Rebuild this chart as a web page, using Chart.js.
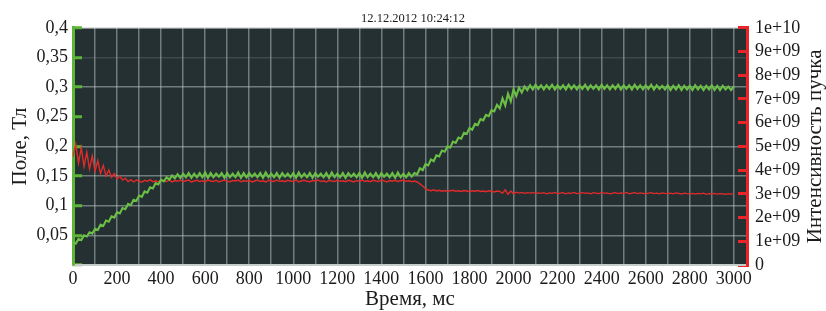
<!DOCTYPE html>
<html>
<head>
<meta charset="utf-8">
<script src="https://cdn.jsdelivr.net/npm/chart.js@4.4.1/dist/chart.umd.min.js"></script>
<style>
  html, body { margin: 0; padding: 0; background: #fff; }
  canvas { display: block; }
</style>
</head>
<body>
<canvas id="chartPole" width="826" height="311"></canvas>
<script>
// ── Data (one sample every 12.5 ms, 0…3000 ms) ──
const SAMPLE_MS = 12.5;
const TIME_MAX  = 3060;

// magnetic field, Тл (left axis)
const field = [
  .038,.036,.044,.042,.050,.048,.055,.053,.061,.059,
  .068,.066,.075,.073,.082,.080,.089,.087,.096,.094,
  .103,.101,.110,.108,.117,.115,.124,.122,.131,.129,
  .138,.136,.144,.141,.148,.144,.151,.146,.153,.147,
  .154,.148,.155,.147,.154,.148,.155,.148,.156,.147,
  .155,.148,.154,.149,.155,.147,.155,.148,.154,.148,
  .156,.147,.155,.148,.155,.149,.154,.148,.155,.147,
  .156,.148,.154,.148,.155,.147,.155,.149,.154,.148,
  .155,.147,.156,.148,.154,.148,.155,.147,.155,.149,
  .154,.148,.155,.147,.156,.148,.154,.148,.155,.147,
  .155,.149,.154,.148,.155,.147,.156,.148,.154,.148,
  .155,.147,.155,.149,.154,.148,.155,.147,.156,.148,
  .154,.148,.155,.149,.155,.153,.163,.160,.170,.168,
  .178,.175,.185,.183,.193,.191,.200,.198,.208,.206,
  .215,.213,.223,.221,.231,.228,.238,.236,.246,.244,
  .253,.251,.261,.259,.270,.264,.281,.269,.289,.276,
  .296,.285,.299,.291,.301,.295,.303,.296,.304,.297,
  .303,.296,.303,.297,.304,.296,.303,.297,.303,.296,
  .304,.297,.303,.296,.303,.297,.304,.296,.303,.297,
  .303,.296,.304,.297,.303,.296,.303,.297,.304,.296,
  .303,.297,.303,.296,.304,.297,.303,.296,.303,.297,
  .304,.296,.303,.297,.302,.296,.303,.295,.302,.296,
  .303,.295,.302,.296,.302,.295,.303,.296,.302,.295,
  .302,.296,.303,.295,.302,.295,.302,.296,.301,.295,
  .301
];

// beam intensity, particles (right axis)
const beam = [
  4.55e9,5.10e9,4.30e9,4.95e9,4.15e9,4.75e9,4.05e9,4.60e9,3.95e9,4.40e9,
  3.85e9,4.20e9,3.75e9,4.00e9,3.70e9,3.85e9,3.62e9,3.75e9,3.58e9,3.66e9,
  3.52e9,3.60e9,3.50e9,3.58e9,3.54e9,3.49e9,3.57e9,3.53e9,3.60e9,3.51e9,
  3.55e9,3.50e9,3.58e9,3.54e9,3.52e9,3.59e9,3.50e9,3.56e9,3.53e9,3.58e9,
  3.51e9,3.55e9,3.58e9,3.50e9,3.54e9,3.57e9,3.52e9,3.55e9,3.50e9,3.58e9,
  3.54e9,3.52e9,3.57e9,3.50e9,3.55e9,3.58e9,3.53e9,3.51e9,3.56e9,3.54e9,
  3.58e9,3.51e9,3.55e9,3.53e9,3.57e9,3.50e9,3.54e9,3.58e9,3.52e9,3.55e9,
  3.50e9,3.57e9,3.54e9,3.52e9,3.58e9,3.53e9,3.55e9,3.51e9,3.57e9,3.54e9,
  3.52e9,3.58e9,3.50e9,3.55e9,3.57e9,3.53e9,3.51e9,3.56e9,3.54e9,3.58e9,
  3.52e9,3.55e9,3.50e9,3.57e9,3.54e9,3.52e9,3.58e9,3.53e9,3.55e9,3.51e9,
  3.57e9,3.54e9,3.50e9,3.56e9,3.53e9,3.58e9,3.52e9,3.55e9,3.51e9,3.57e9,
  3.54e9,3.52e9,3.58e9,3.55e9,3.50e9,3.56e9,3.53e9,3.57e9,3.52e9,3.55e9,
  3.58e9,3.53e9,3.55e9,3.51e9,3.54e9,3.50e9,3.42e9,3.33e9,3.22e9,3.16e9,
  3.13e9,3.17e9,3.12e9,3.15e9,3.11e9,3.14e9,3.10e9,3.13e9,3.15e9,3.11e9,
  3.13e9,3.10e9,3.14e9,3.12e9,3.09e9,3.13e9,3.11e9,3.14e9,3.10e9,3.12e9,
  3.09e9,3.13e9,3.11e9,3.08e9,3.12e9,3.10e9,3.02e9,3.17e9,2.98e9,3.12e9,
  3.00e9,3.07e9,3.03e9,3.06e9,3.02e9,3.05e9,3.03e9,3.06e9,3.01e9,3.04e9,
  3.02e9,3.05e9,3.00e9,3.04e9,3.02e9,3.06e9,3.01e9,3.03e9,3.05e9,3.00e9,
  3.04e9,3.02e9,3.06e9,3.01e9,3.03e9,3.05e9,3.02e9,3.04e9,3.00e9,3.05e9,
  3.03e9,3.01e9,3.06e9,3.02e9,3.04e9,3.00e9,3.03e9,3.05e9,3.01e9,3.04e9,
  3.02e9,3.06e9,3.00e9,3.03e9,3.05e9,3.01e9,3.04e9,3.02e9,3.00e9,3.03e9,
  3.05e9,3.01e9,3.03e9,3.00e9,3.04e9,3.02e9,3.01e9,3.03e9,3.00e9,3.04e9,
  3.02e9,2.99e9,3.03e9,3.01e9,3.00e9,3.02e9,2.99e9,3.02e9,3.00e9,3.03e9,
  2.98e9,3.01e9,3.00e9,3.02e9,2.99e9,3.01e9,3.00e9,2.98e9,3.01e9,2.99e9,
  3.00e9
];

// tick labels
const timeTickLabels  = ['0','200','400','600','800','1000','1200','1400','1600','1800','2000','2200','2400','2600','2800','3000'];
const fieldTickLabels = ['','0,05','0,1','0,15','0,2','0,25','0,3','0,35','0,4'];
const beamTickLabels  = ['0','1e+09','2e+09','3e+09','4e+09','5e+09','6e+09','7e+09','8e+09','9e+09','1e+10'];

const times = field.map((_, i) => i * SAMPLE_MS);

// ── Styles ──
const SERIF   = "'Liberation Serif', 'DejaVu Serif', serif";
const TEXT    = '#1b1b1b';
const GREEN   = '#6cbf45';
const RED     = '#e02b2a';
const AX_GRN  = '#5cb536';
const AX_RED  = '#e8262a';
const PLOT_BG = '#253033';
const GRID    = 'rgba(190,200,200,0.5)';

// horizontal lines per left tick (0 … 0.4): the scope only had some of them
const fieldGridColors = ['transparent', GRID, GRID, GRID, GRID, 'transparent', GRID, 'rgba(160,170,170,0.2)', '#dfe3e3'];

const plotBackground = {
  id: 'plotBackground',
  beforeDraw(chart) {
    const { ctx, chartArea: a } = chart;
    ctx.save();
    ctx.fillStyle = PLOT_BG;
    ctx.fillRect(a.left, a.top, a.right - a.left, a.bottom - a.top);
    ctx.restore();
  }
};

// right-hand title reads bottom-to-top, Chart.js would rotate it the other way
const beamTitle = {
  id: 'beamTitle',
  afterDraw(chart) {
    const { ctx, chartArea: a, scales } = chart;
    ctx.save();
    ctx.translate(scales.yBeam.right - 11, (a.top + a.bottom) / 2);
    ctx.rotate(-Math.PI / 2);
    ctx.font = '21px ' + SERIF;
    ctx.fillStyle = TEXT;
    ctx.textAlign = 'center';
    ctx.textBaseline = 'middle';
    ctx.fillText('Интенсивность пучка', 0, 0);
    ctx.restore();
  }
};

new Chart(document.getElementById('chartPole'), {
  type: 'line',
  data: {
    labels: times,
    datasets: [
      { label: 'Поле', data: field, yAxisID: 'yField', borderColor: GREEN, borderWidth: 2.1, pointRadius: 0, tension: 0 },
      { label: 'Интенсивность', data: beam, yAxisID: 'yBeam', borderColor: RED, borderWidth: 1.4, pointRadius: 0, tension: 0 }
    ]
  },
  options: {
    responsive: false,
    animation: false,
    layout: { padding: 0 },
    plugins: {
      legend: { display: false },
      tooltip: { enabled: false },
      title: {
        display: true,
        text: '12.12.2012 10:24:12',
        color: TEXT,
        font: { family: SERIF, size: 12.5, weight: 'normal', lineHeight: 1.2 },
        padding: { top: 10, bottom: 2 }
      }
    },
    scales: {
      x: {
        type: 'linear', min: 0, max: TIME_MAX,
        afterFit: s => { s.height = 46; },
        border: { color: '#c5cccc', width: 2 },
        grid: { color: GRID, lineWidth: 1.5, drawTicks: false },
        ticks: {
          stepSize: 100, includeBounds: false, autoSkip: false, maxRotation: 0, padding: 3,
          color: TEXT, font: { family: SERIF, size: 18 },
          callback: (v, i) => (i % 2 ? '' : timeTickLabels[i / 2])
        },
        title: {
          display: true, text: 'Время, мс', color: TEXT,
          font: { family: SERIF, size: 21, lineHeight: 1 },
          padding: { top: 0, bottom: 1 }
        }
      },
      yField: {
        position: 'left', min: 0, max: 0.4,
        afterFit: s => { s.width = 73; },
        border: { color: AX_GRN, width: 3 },
        grid: {
          color: c => fieldGridColors[c.index], lineWidth: 1.5,
          drawTicks: true, tickLength: -9, tickColor: AX_GRN, tickWidth: 3
        },
        ticks: {
          stepSize: 0.05, autoSkip: false, padding: 14, color: TEXT, font: { family: SERIF, size: 18 },
          callback: (v, i) => fieldTickLabels[i]
        },
        title: {
          display: true, text: 'Поле, Тл', color: TEXT,
          font: { family: SERIF, size: 21, lineHeight: 1 },
          padding: { top: 10 }
        }
      },
      yBeam: {
        position: 'right', min: 0, max: 1e10,
        afterFit: s => { s.width = 79; },
        border: { color: AX_RED, width: 3 },
        grid: {
          drawOnChartArea: false, color: 'transparent',
          drawTicks: true, tickLength: -9, tickColor: AX_RED, tickWidth: 3
        },
        ticks: {
          stepSize: 1e9, autoSkip: false, padding: 17, color: TEXT, font: { family: SERIF, size: 18 },
          callback: (v, i) => beamTickLabels[i]
        }
      }
    }
  },
  plugins: [plotBackground, beamTitle]
});
</script>
</body>
</html>
